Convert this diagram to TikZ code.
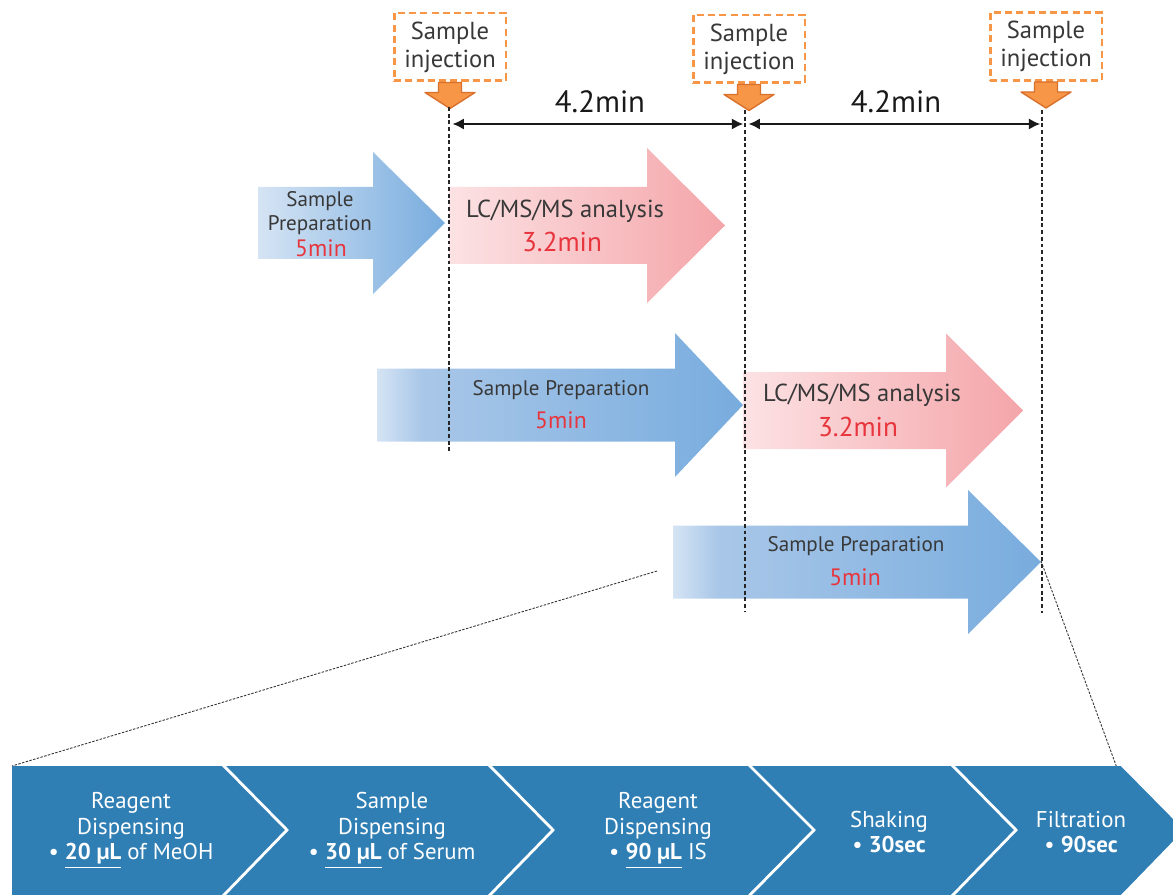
\documentclass[tikz,border=0pt]{standalone}
\usepackage{fontspec}
\setmainfont{PT Sans}
\usetikzlibrary{calc,arrows.meta}

\definecolor{prepA}{HTML}{D5E4F4}
\definecolor{prepB}{HTML}{A9C7E8}
\definecolor{prepC}{HTML}{78ACDE}
\definecolor{lcA}{HTML}{FCE2E4}
\definecolor{lcC}{HTML}{F4A5A9}
\definecolor{injorange}{HTML}{F79646}
\definecolor{injedge}{HTML}{D9712C}
\definecolor{stepblue}{HTML}{2F7EB4}
\definecolor{txtgray}{HTML}{383838}
\definecolor{txtred}{HTML}{E8343C}

\pgfdeclarehorizontalshading{prepfade}{100bp}{color(0bp)=(prepA); color(25bp)=(prepA); color(31bp)=(prepB); color(75bp)=(prepC); color(100bp)=(prepC)}
\pgfdeclarehorizontalshading{prepsoft}{100bp}{color(0bp)=(prepA); color(25bp)=(prepA); color(75bp)=(prepC); color(100bp)=(prepC)}
\pgfdeclarehorizontalshading{lcfade}{100bp}{color(0bp)=(lcA); color(25bp)=(lcA); color(75bp)=(lcC); color(100bp)=(lcC)}

\def\fatarrow[#1](#2:#3:#4)(#5:#6:#7){\shade[shading=#1] (#2,#5-#6) -- (#3,#5-#6) -- (#3,#5-#7) -- (#4,#5) -- (#3,#5+#7) -- (#3,#5+#6) -- (#2,#5+#6) -- cycle;}
\def\injarrow#1{\draw[injarrow] ($(#1.south)+(-11.5,0)$) -- ++(23,0) -- ++(0,10) -- ++(13.5,0) -- ++(-25,16) -- ++(-25,-16) -- ++(13.5,0) -- cycle;}

\tikzset{
	injbox/.style={draw=injorange, line width=1.7pt, dash pattern=on 4pt off 2.4pt, fill=white, minimum width=2.24cm, minimum height=1.36cm, inner sep=0pt, align=center, text=txtgray, font=\fontsize{14}{16}\selectfont},
	injarrow/.style={fill=injorange, draw=injedge, line width=0.8pt, line join=round},
	timeline/.style={black!85, line width=0.6pt, dash pattern=on 2.2pt off 1.6pt},
	dimline/.style={black!90, line width=1.7pt, {Latex[length=6.5pt,width=6.5pt]}-{Latex[length=6.5pt,width=6.5pt]}},
	zoomline/.style={black!80, line width=0.5pt, dash pattern=on 1.4pt off 0.8pt},
	steptitle/.style={text=txtgray, align=center, font=\fontsize{12}{13.6}\selectfont},
	lctitle/.style={text=txtgray, font=\fontsize{14}{16}\selectfont},
	timered/.style={text=txtred, font=\fontsize{15.5}{17}\selectfont},
	prepred/.style={text=txtred, font=\fontsize{13.5}{15}\selectfont},
	steptext/.style={text=white, align=center, font=\fontsize{13}{14.7}\selectfont}
}

\begin{document}
\begin{tikzpicture}[x=0.02cm, y=-0.02cm]
			%%%%% START %%%%%
			\useasboundingbox (0,0) rectangle (1173,895);
			
			% injection marks
			\node[injbox] (inj1) at (450,47) {Sample\\injection};
			\node[injbox] (inj2) at (749,49) {Sample\\injection};
			\node[injbox] (inj3) at (1046,46.5) {Sample\\injection};
			\injarrow{inj1}
			\injarrow{inj2}
			\injarrow{inj3}
			
			\coordinate (t0) at (449,107);
			\coordinate (t1) at (745,110);
			\coordinate (t2) at (1042,110);
			\coordinate (t0end) at (449,452);
			\coordinate (t1end) at (745,612);
			\coordinate (t2end) at (1042,613);
			
			% arrows, row by row
			\fatarrow[prepsoft](258:373:445)(223:36:71)
			\fatarrow[lcfade](449:647:725)(225.5:38.5:77.5)
			\fatarrow[prepfade](377:675:743)(405:36.5:72)
			\fatarrow[lcfade](743:946:1023)(410.5:38.5:77)
			\fatarrow[prepfade](673:968:1041)(562:36.5:72)
			
			\draw[timeline] (t0) -- (t0end);
			\draw[timeline] (t1) -- (t1end);
			\draw[timeline] (t2) -- (t2end);
			
			\coordinate (d0) at (449,124);
			\coordinate (d1) at (745,124);
			\coordinate (d2) at (1042,124);
			\draw[dimline, shorten <=2pt, shorten >=1pt] (d0) -- (d1);
			\draw[dimline, shorten <=2pt, shorten >=1pt] (d1) -- (d2);
			\node[font=\fontsize{17.5}{19}\selectfont, text=black!90] (gap1) at (600,102) {4.2min};
			\node[font=\fontsize{17.5}{19}\selectfont, text=black!90] (gap2) at (896,102) {4.2min};
			
			\node[steptitle] (prep1) at (320,213) {Sample\\Preparation};
			\node[prepred] (prep1t) at (321,248) {5min};
			\node[lctitle] (lc1) at (565,211) {LC/MS/MS analysis};
			\node[timered] (lc1t) at (562,242) {3.2min};
			\node[steptitle] (prep2) at (561,390) {Sample Preparation};
			\node[prepred] (prep2t) at (561,420) {5min};
			\node[lctitle] (lc2) at (862,395) {LC/MS/MS analysis};
			\node[timered] (lc2t) at (858,427) {3.2min};
			\node[steptitle] (prep3) at (856,546) {Sample Preparation};
			\node[prepred] (prep3t) at (855,577) {5min};
			
			% zoom onto the preparation steps
			\coordinate (zl) at (657,571);
			\coordinate (zr) at (1041,561);
			\coordinate (bl) at (12,766);
			\coordinate (br) at (1117,768);
			\draw[zoomline] (zl) -- (bl);
			\draw[zoomline] (zr) -- (br);
			
			\begin{scope}
			\clip (0,0) rectangle (1173,895);
			\fill[stepblue] (12,766) -- (1121,766) -- (1186,831) -- (1121,896) -- (12,896) -- cycle;
			\draw[white, line width=1.6pt] (222,764) -- (287,830) -- (222,897);
			\draw[white, line width=1.6pt] (488,764) -- (553,830) -- (488,897);
			\draw[white, line width=1.6pt] (748,764) -- (814,830) -- (748,897);
			\draw[white, line width=1.6pt] (951,764) -- (1016,830) -- (951,897);
			\draw[white, line width=1.6pt] (1121,764) -- (1186,830) -- (1121,897);
			\end{scope}
			
			\node[steptext] (step1) at (131,830) {Reagent\\Dispensing\\\textbullet\ \underline{\textbf{20 µL}} of MeOH};
			\node[steptext] (step2) at (392,830) {Sample\\Dispensing\\\textbullet\ \underline{\textbf{30 µL}} of Serum};
			\node[steptext] (step3) at (658,830) {Reagent\\Dispensing\\\textbullet\ \underline{\textbf{90 µL}} IS};
			\node[steptext] (step4) at (889,832) {Shaking\\\textbullet\ \textbf{30sec}};
			\node[steptext] (step5) at (1081,832) {Filtration\\\textbullet\ \textbf{90sec}};
			
			%%%%% END %%%%%
\end{tikzpicture}
\end{document}
